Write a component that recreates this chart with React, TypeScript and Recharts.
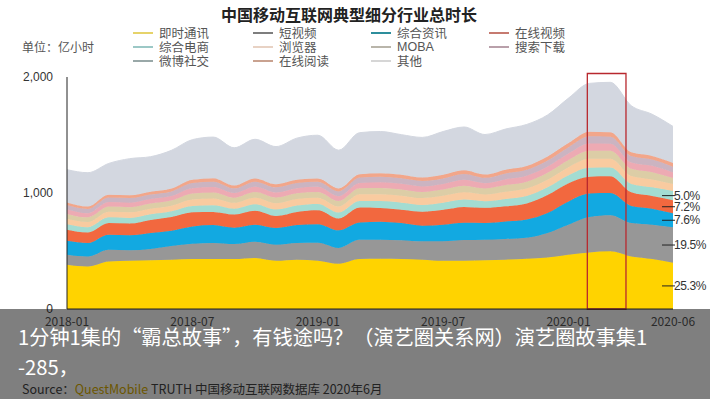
import React from 'react';
import { AreaChart, Area, XAxis, YAxis, ReferenceArea, ReferenceDot } from 'recharts';

const MONTHS = [
  '2018-01', '2018-02', '2018-03', '2018-04', '2018-05', '2018-06', '2018-07', '2018-08', '2018-09', '2018-10',
  '2018-11', '2018-12', '2019-01', '2019-02', '2019-03', '2019-04', '2019-05', '2019-06', '2019-07', '2019-08',
  '2019-09', '2019-10', '2019-11', '2019-12', '2020-01', '2020-02', '2020-03', '2020-04', '2020-05', '2020-06',
];
const X_TICKS = [0, 6, 12, 18, 24, 29];
const Y_TICKS = [0, 1000, 2000];

// 亿小时
const IM = [382, 367, 410, 416, 420, 425, 431, 431, 431, 440, 416, 425, 416, 390, 431, 434, 431, 425, 416, 416, 420, 425, 434, 445, 468, 488, 497, 453, 431, 398];
const SHORT_VIDEO = [86, 86, 101, 90, 97, 118, 132, 138, 129, 140, 138, 144, 155, 136, 165, 163, 162, 158, 167, 178, 177, 178, 180, 210, 259, 305, 312, 288, 296, 307];
const NEWS = [121, 116, 129, 129, 138, 132, 149, 155, 140, 146, 144, 155, 160, 152, 150, 155, 148, 135, 144, 150, 145, 152, 158, 173, 200, 202, 190, 148, 138, 120];
const ONLINE_VIDEO = [95, 91, 101, 101, 112, 118, 121, 113, 115, 121, 104, 113, 120, 102, 128, 118, 115, 120, 128, 136, 130, 130, 138, 155, 158, 145, 145, 117, 110, 113];
const ECOMMERCE = [47, 45, 49, 49, 49, 49, 56, 58, 50, 56, 55, 55, 55, 52, 57, 60, 60, 59, 60, 63, 57, 63, 64, 66, 69, 78, 76, 72, 74, 79];
const BROWSER = [47, 45, 49, 49, 49, 49, 56, 58, 50, 56, 55, 56, 54, 52, 58, 60, 61, 59, 61, 63, 58, 63, 65, 66, 69, 77, 76, 69, 68, 60];
const MOBA = [42, 40, 44, 44, 44, 44, 51, 52, 45, 50, 49, 50, 49, 47, 52, 54, 54, 53, 54, 57, 52, 57, 58, 60, 62, 70, 68, 62, 62, 52];
const SEARCH = [38, 36, 39, 39, 39, 39, 45, 47, 40, 45, 44, 44, 44, 41, 46, 48, 48, 47, 48, 51, 46, 51, 52, 53, 55, 62, 61, 55, 55, 48];
const WEIBO = [38, 36, 39, 39, 39, 40, 45, 46, 40, 44, 44, 44, 44, 41, 46, 48, 48, 48, 48, 50, 46, 50, 51, 53, 55, 62, 60, 55, 55, 50];
const READING = [23, 22, 24, 24, 24, 24, 29, 30, 25, 28, 27, 28, 27, 26, 28, 31, 31, 30, 31, 32, 28, 32, 32, 33, 35, 39, 38, 32, 31, 32];
const OTHER = [282, 291, 270, 316, 302, 330, 345, 354, 325, 337, 324, 359, 374, 330, 359, 359, 345, 345, 373, 373, 345, 351, 359, 359, 388, 417, 431, 402, 359, 315];

const SERIES = [
  { key: 'im', name: '即时通讯', values: IM, fill: '#FFD300', legend: '#E6D36A' },
  { key: 'sv', name: '短视频', values: SHORT_VIDEO, fill: '#979797', legend: '#7E7E7E' },
  { key: 'news', name: '综合资讯', values: NEWS, fill: '#12A9E1', legend: '#2D8E9C' },
  { key: 'ov', name: '在线视频', values: ONLINE_VIDEO, fill: '#F2683F', legend: '#C67A70' },
  { key: 'ec', name: '综合电商', values: ECOMMERCE, fill: '#A3DCD2', legend: '#9CC8C6' },
  { key: 'br', name: '浏览器', values: BROWSER, fill: '#F9CBA0', legend: '#E8D2C4' },
  { key: 'moba', name: 'MOBA', values: MOBA, fill: '#DCCDA6', legend: '#B9B5AA' },
  { key: 'search', name: '搜索下载', values: SEARCH, fill: '#EDAAB3', legend: '#B9A0AA' },
  { key: 'weibo', name: '微博社交', values: WEIBO, fill: '#CBB4C1', legend: '#99A8A8' },
  { key: 'read', name: '在线阅读', values: READING, fill: '#F2A68A', legend: '#C9A290' },
  { key: 'other', name: '其他', values: OTHER, fill: '#D3D7E0', legend: '#D6D6D6' },
];

const PCT_LABELS = ['25.3%', '19.5%', '7.6%', '7.2%', '5.0%'];
const HIGHLIGHT = { x1: 24.9, x2: 26.75, y2: 2030 };

const data = MONTHS.map((m, i) => {
  const row: any = { i, month: m };
  SERIES.forEach((s) => { row[s.key] = s.values[i]; });
  return row;
});

const last = MONTHS.length - 1;
const pctMarks = PCT_LABELS.map((label, k) => {
  let base = 0;
  for (let j = 0; j < k; j++) base += SERIES[j].values[last];
  return { label, y: base + SERIES[k].values[last] / 2 };
});

const LEGEND_COLS = [133, 253, 371, 489];
const LEGEND_ROWS = [33, 47, 61];

const cjk = '"Noto Sans CJK SC", "Noto Sans", sans-serif';
const latin = '"Liberation Sans", Arial, sans-serif';

export default function App() {
  return (
    <div style={{ position: 'absolute', left: 0, top: 0, width: 710, height: 399, background: '#fff', overflow: 'hidden', fontFamily: cjk }}>
      <div style={{ position: 'absolute', left: 0, width: 698, top: 2, textAlign: 'center', fontSize: 16, fontWeight: 700, color: '#222', lineHeight: '24px' }}>
        中国移动互联网典型细分行业总时长
      </div>
      <div style={{ position: 'absolute', left: 22, top: 38, fontSize: 12, color: '#555', lineHeight: '18px' }}>单位：亿小时</div>
      {SERIES.map((s, idx) => {
        const col = idx % 4;
        const row = Math.floor(idx / 4);
        return (
          <div key={s.key} style={{ position: 'absolute', left: LEGEND_COLS[col], top: LEGEND_ROWS[row] - 9, height: 18, display: 'flex', alignItems: 'center' }}>
            <div style={{ width: 20, height: 2, background: s.legend, marginRight: 6 }} />
            <span style={{ fontSize: 12.5, color: '#555', lineHeight: '18px', fontFamily: s.name === 'MOBA' ? latin : cjk }}>{s.name}</span>
          </div>
        );
      })}
      <div style={{ position: 'absolute', left: 0, top: 0 }}>
        <AreaChart width={710} height={339} data={data} margin={{ top: 77, right: 37, bottom: 0, left: 0 }}>
          <XAxis
            dataKey="i"
            type="number"
            domain={[0, 29]}
            ticks={X_TICKS}
            tickFormatter={(v: number) => MONTHS[v]}
            tickLine={false}
            axisLine={{ stroke: '#222', strokeWidth: 1 }}
            tick={{ fontSize: 12, fill: '#555', fontFamily: cjk }}
            height={30}
            interval={0}
          />
          <YAxis
            domain={[0, 2000]}
            ticks={Y_TICKS}
            tickFormatter={(v: number) => v.toLocaleString('en-US')}
            tickLine={false}
            tickSize={0}
            tickMargin={14}
            axisLine={{ stroke: '#222', strokeWidth: 1 }}
            tick={{ fontSize: 12, fill: '#333', fontFamily: latin }}
            width={67}
          />
          {SERIES.map((s) => (
            <Area
              key={s.key}
              dataKey={s.key}
              name={s.name}
              stackId="total"
              type="monotone"
              fill={s.fill}
              fillOpacity={1}
              stroke={s.fill}
              strokeWidth={1}
              isAnimationActive={false}
              dot={false}
              activeDot={false}
            />
          ))}
          <ReferenceArea
            x1={HIGHLIGHT.x1}
            x2={HIGHLIGHT.x2}
            y1={0}
            y2={HIGHLIGHT.y2}
            fill="none"
            fillOpacity={0}
            stroke="#B8282E"
            strokeWidth={1.3}
            ifOverflow="visible"
          />
          {pctMarks.map((p) => (
            <ReferenceDot
              key={p.label}
              x={29}
              y={p.y}
              ifOverflow="visible"
              shape={(props: any) => (
                <g>
                  <line x1={props.cx - 11} y1={props.cy} x2={props.cx + 2} y2={props.cy} stroke="#222" strokeWidth={1} />
                  <text x={props.cx + 1} y={props.cy} dy="0.35em" fontSize={12} letterSpacing={-0.4} fill="#333" fontFamily={latin}>{p.label}</text>
                </g>
              )}
            />
          ))}
        </AreaChart>
      </div>
      <div style={{ position: 'absolute', left: 22, top: 380, fontSize: 12.5, color: '#444', lineHeight: '18px', whiteSpace: 'nowrap' }}>
        Source：<span style={{ color: '#D9AE00' }}>QuestMobile</span> TRUTH 中国移动互联网数据库 2020年6月
      </div>
      <div style={{ position: 'absolute', left: 0, top: 309, width: 710, height: 90, background: 'rgba(0,0,0,0.5)' }} />
      <div style={{ position: 'absolute', left: 18, top: 322, width: 700, fontSize: 20.2, color: '#fff', lineHeight: '30px', whiteSpace: 'nowrap' }}>
        1分钟1集的“霸总故事”，有钱途吗？（演艺圈关系网）演艺圈故事集1
      </div>
      <div style={{ position: 'absolute', left: 18, top: 352, fontSize: 20.2, color: '#fff', lineHeight: '30px', whiteSpace: 'nowrap' }}>
        -285，
      </div>
    </div>
  );
}
